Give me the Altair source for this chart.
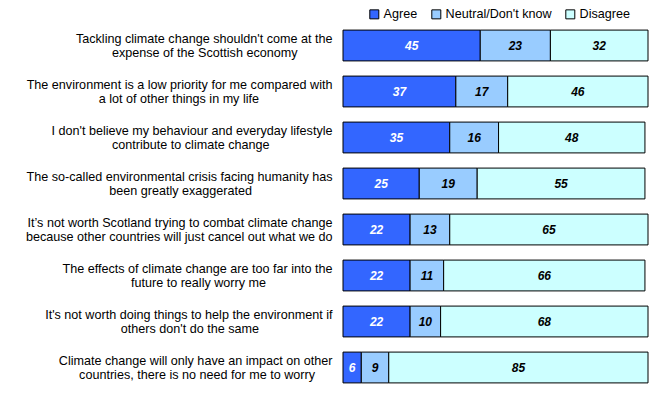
import altair as alt
import pandas as pd

line1 = [
    "Tackling climate change shouldn't come at the",
    "The environment is a low priority for me compared with",
    "I don't believe my behaviour and everyday lifestyle",
    "The so-called environmental crisis facing humanity has",
    "It\u2019s not worth Scotland trying to combat climate change",
    "The effects of climate change are too far into the",
    "It's not worth doing things to help the environment if",
    "Climate change will only have an impact on other",
]
line2 = [
    "expense of the Scottish economy",
    "a lot of other things in my life",
    "contribute to climate change",
    "been greatly exaggerated",
    "because other countries will just cancel out what we do",
    "future to really worry me",
    "others don't do the same",
    "countries, there is no need for me to worry",
]
responses = ["Agree", "Neutral/Don't know", "Disagree"]
agree = [45, 37, 35, 25, 22, 22, 22, 6]
neutral = [23, 17, 16, 19, 13, 11, 10, 9]
disagree = [32, 46, 48, 55, 65, 66, 68, 85]
colors = ["#3366FF", "#99CCFF", "#CCFFFF"]

# Arial / Liberation Sans advance widths (per 1000 em), used to centre the two label lines
W = {" ": 278, "'": 191, "\u2019": 222, ",": 278, "-": 333, ".": 278,
     "A": 667, "C": 722, "E": 667, "I": 278, "S": 667, "T": 611,
     "a": 556, "b": 556, "c": 500, "d": 556, "e": 556, "f": 278, "g": 556, "h": 556,
     "i": 222, "j": 222, "k": 500, "l": 222, "m": 833, "n": 556, "o": 556, "p": 556,
     "q": 556, "r": 333, "s": 500, "t": 278, "u": 556, "v": 500, "w": 722, "x": 500,
     "y": 500, "z": 500}


def width(s):
    return sum(W.get(ch, 556) for ch in s)


def centred(a, b):
    wa, wb = width(a), width(b)
    n = int(round(abs(wa - wb) / 2 / 278))
    pad = "\u00a0" * n + "\u200b"
    if wa >= wb:
        return a + "\n" + b + pad
    return a + pad + "\n" + b


statements = [centred(a, b) for a, b in zip(line1, line2)]

rows = []
for i, s in enumerate(statements):
    for j, (r, v) in enumerate(zip(responses, [agree[i], neutral[i], disagree[i]])):
        rows.append({"statement": s, "response": r, "order": j, "value": v})
df = pd.DataFrame(rows)

base = alt.Chart(df).transform_stack(
    stack="value", groupby=["statement"], sort=[alt.SortField("order")], as_=["x0", "x1"]
).transform_calculate(mid="(datum.x0 + datum.x1) / 2")

y = alt.Y(
    "statement:N",
    sort=statements,
    title=None,
    scale=alt.Scale(paddingInner=0.33, paddingOuter=0.165),
    axis=alt.Axis(
        ticks=False,
        domain=False,
        labelPadding=11,
        labelFont="Liberation Sans",
        labelFontSize=12.6,
        labelColor="black",
        labelLineHeight=14.5,
        labelOffset=-7,
        labelLimit=400,
        labelExpr="split(datum.label, '\\n')",
    ),
)

bars = base.mark_bar(stroke="black", strokeWidth=1).encode(
    y=y,
    x=alt.X("x0:Q", scale=alt.Scale(domain=[0, 100], nice=False, zero=True), axis=None),
    x2="x1:Q",
    color=alt.Color(
        "response:N",
        sort=responses,
        scale=alt.Scale(domain=responses, range=colors),
        legend=alt.Legend(
            title=None,
            orient="none",
            direction="horizontal",
            legendX=25,
            legendY=-14.5,
            symbolType="square",
            symbolSize=81,
            symbolStrokeColor="black",
            symbolStrokeWidth=1,
            symbolOpacity=1,
            labelFont="Liberation Sans",
            labelFontSize=12.6,
            labelColor="black",
            labelOffset=3,
            columnPadding=11,
        ),
    ),
)

texts = base.mark_text(
    font="Liberation Sans", fontSize=12, fontWeight="bold", fontStyle="italic"
).encode(
    y=alt.Y("statement:N", sort=statements),
    x=alt.X("mid:Q"),
    text=alt.Text("value:Q"),
    color=alt.condition(alt.datum.response == "Agree", alt.value("white"), alt.value("black")),
)

chart = alt.layer(bars, texts).properties(
    width=305,
    height=368,
    autosize=alt.AutoSizeParams(type="none"),
    padding={"left": 335, "top": 14.5, "right": 9, "bottom": 0},
).configure_view(stroke=None)

chart.save("out.html", embed_options={"renderer": "svg", "actions": False})
